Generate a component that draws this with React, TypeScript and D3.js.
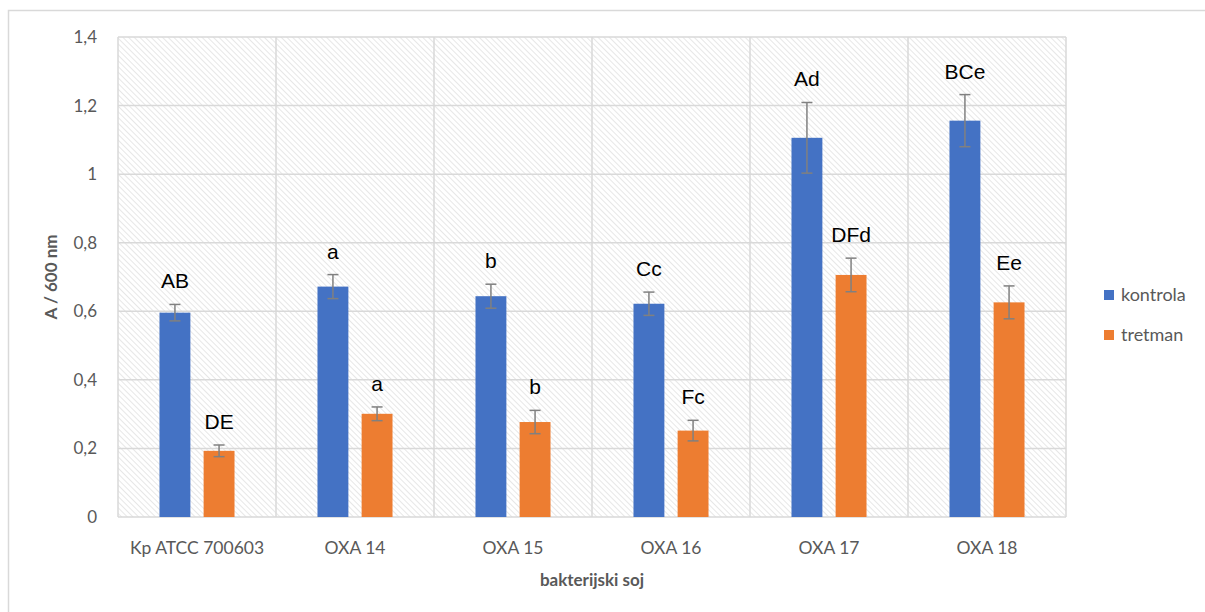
import React from "react";
import * as d3 from "d3";

const categories = ["Kp ATCC 700603", "OXA 14", "OXA 15", "OXA 16", "OXA 17", "OXA 18"];
const seriesNames = ["kontrola", "tretman"];
const kontrola = [0.596, 0.672, 0.644, 0.622, 1.106, 1.156];
const tretman = [0.193, 0.301, 0.277, 0.252, 0.706, 0.626];
const kontrolaErr = [0.024, 0.035, 0.035, 0.034, 0.103, 0.076];
const tretmanErr = [0.017, 0.02, 0.034, 0.03, 0.049, 0.048];
const kontrolaLabels = ["AB", "a", "b", "Cc", "Ad", "BCe"];
const tretmanLabels = ["DE", "a", "b", "Fc", "DFd", "Ee"];
const yTicks = [0, 0.2, 0.4, 0.6, 0.8, 1, 1.2, 1.4];
const colors = ["#4472C4", "#ED7D31"];

const W = 1205;
const H = 612;
const left = 118;
const right = 1066;
const top = 37;
const bottom = 517;

export default function App() {
  const x = d3.scaleBand().domain(categories).range([left, right]).paddingInner(0).paddingOuter(0);
  const y = d3.scaleLinear().domain([0, 1.4]).range([bottom, top]);
  const sub = d3.scaleBand().domain(seriesNames).range([0, x.bandwidth()]).paddingInner(0.3).paddingOuter(0.94);
  const fmt = (v: number) => d3.format(".1f")(v).replace(".", ",").replace(/,0$/, "");
  const tickFont = "Lato, 'Open Sans', sans-serif";
  const series = [
    { name: seriesNames[0], vals: kontrola, errs: kontrolaErr, labels: kontrolaLabels, color: colors[0] },
    { name: seriesNames[1], vals: tretman, errs: tretmanErr, labels: tretmanLabels, color: colors[1] },
  ];
  return (
    <svg width={W} height={H} style={{ position: "absolute", left: 0, top: 0 }}>
      <defs>
        <pattern id="hatch" width="4" height="4" patternUnits="userSpaceOnUse" patternTransform="rotate(-45)">
          <line x1="0" y1="0" x2="0" y2="4" stroke="#d6d6d6" strokeWidth="1.2" />
        </pattern>
      </defs>
      <rect x={0} y={0} width={W} height={H} fill="#fff" />
      <rect x={8.5} y={10.5} width={W + 20} height={H + 20} fill="none" stroke="#d9d9d9" strokeWidth={1.5} />
      <rect x={left} y={top} width={right - left} height={bottom - top} fill="url(#hatch)" />
      {yTicks.map((t) => (
        <line key={"g" + t} x1={left} x2={right} y1={y(t)} y2={y(t)} stroke="#d9d9d9" strokeWidth={1.5} />
      ))}
      {categories.map((c) => (
        <line key={"v" + c} x1={x(c)!} x2={x(c)!} y1={top} y2={bottom} stroke="#d9d9d9" strokeWidth={1.5} />
      ))}
      <line x1={right} x2={right} y1={top} y2={bottom} stroke="#d9d9d9" strokeWidth={1.5} />
      {yTicks.map((t) => (
        <text key={"t" + t} x={97} y={y(t)} dy="0.35em" textAnchor="end" fontSize={17} fill="#595959" fontFamily={tickFont}>
          {fmt(t)}
        </text>
      ))}
      {series.map((s) =>
        categories.map((c, i) => {
          const bx = x(c)! + sub(s.name)!;
          const bw = sub.bandwidth();
          const cx = bx + bw / 2;
          const v = s.vals[i];
          const e = s.errs[i];
          return (
            <g key={s.name + c}>
              <rect x={bx} y={y(v)} width={bw} height={y(0) - y(v)} fill={s.color} />
              <line x1={cx} x2={cx} y1={y(v + e)} y2={y(v - e)} stroke="#808080" strokeWidth={1.5} />
              <line x1={cx - 5.5} x2={cx + 5.5} y1={y(v + e)} y2={y(v + e)} stroke="#808080" strokeWidth={1.5} />
              <line x1={cx - 5.5} x2={cx + 5.5} y1={y(v - e)} y2={y(v - e)} stroke="#808080" strokeWidth={1.5} />
              <text x={cx} y={y(v + e) - 16} textAnchor="middle" fontSize={21} fill="#000" fontFamily="'Liberation Sans', Arial, sans-serif">
                {s.labels[i]}
              </text>
            </g>
          );
        })
      )}
      {categories.map((c) => (
        <text key={"c" + c} x={x(c)! + x.bandwidth() / 2} y={554} textAnchor="middle" fontSize={17.5} fill="#595959" fontFamily={tickFont}>
          {c}
        </text>
      ))}
      <text x={(left + right) / 2} y={586} textAnchor="middle" fontSize={17} fontWeight="bold" fill="#595959" fontFamily={tickFont}>
        bakterijski soj
      </text>
      <text transform={`translate(57,${(top + bottom) / 2}) rotate(-90)`} textAnchor="middle" fontSize={17} fontWeight="bold" fill="#595959" fontFamily={tickFont}>
        A / 600 nm
      </text>
      {series.map((s, i) => (
        <g key={"l" + s.name} transform={`translate(1104,${290 + i * 40})`}>
          <rect x={0} y={0} width={10} height={10} fill={s.color} />
          <text x={17} y={11} fontSize={18} fill="#595959" fontFamily={tickFont}>
            {s.name}
          </text>
        </g>
      ))}
    </svg>
  );
}
